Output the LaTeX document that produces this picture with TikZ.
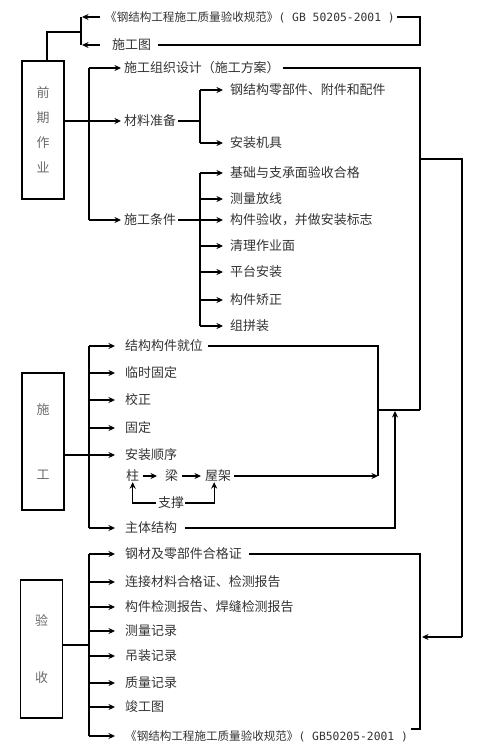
\documentclass[tikz,border=0pt]{standalone}
\usepackage{fontspec}
\newfontfamily\cjk{Noto Sans CJK SC}
\newfontfamily\latmono{DejaVu Sans Mono}
\usetikzlibrary{arrows.meta,calc}
\definecolor{txt}{HTML}{333333}
\definecolor{lbl}{HTML}{6A6A6A}
\begin{document}
\begin{tikzpicture}[x=1bp,y=-1bp,
  line/.style={line width=1.3bp,draw=black},
  arr/.style={line,-{Stealth[length=6.5bp,width=6bp]}},
  item/.style={anchor=west,inner sep=0pt,font=\cjk\fontsize{13}{15}\selectfont,text=txt},
  longref/.style={item,font=\cjk\fontsize{11.6}{15}\selectfont},
  stage/.style={draw=black,line width=1.3bp,minimum width=42bp,inner sep=0pt,align=center,font=\cjk\fontsize{13}{25}\selectfont,text=lbl}]
\useasboundingbox (0,0) rectangle (498,749);

% ---- top references
\node[longref] (g1) at (105,17) {《钢结构工程施工质量验收规范》{\latmono\fontsize{11.4}{15}\selectfont( GB 50205-2001 )}};
\node[item] (g2) at (112,45) {施工图};
\coordinate (tg) at (81,17);
\coordinate (tm) at (81,32);
\coordinate (rg) at (420,17);
\node[stage,minimum height=138bp] (q) at (43,130) {前\\期\\作\\业};
\draw[line] (tg) -- (tg |- g2.west);
\draw[arr] ($(g1.west)+(-5,0)$) -- ($(tg)+(1,0)$);
\draw[arr] ($(g2.west)+(-12,0)$) -- ($(tg |- g2.west)+(1,0)$);
\draw[line] ($(q.north)+(4,0)$) |- (tm);
\draw[line] ($(g1.east)+(2,0)$) -| (rg |- g2.east) -- ($(g2.east)+(7,0)$);

% ---- preliminary work
\node[item] (a1) at (124,68) {施工组织设计（施工方案）};
\node[item] (a2) at (124,121) {材料准备};
\node[item] (a3) at (124,220) {施工条件};
\coordinate (ta) at (89,68);
\draw[line] (ta) -- (ta |- a3.west);
\draw[arr] (ta) -- ($(a1.west)+(-3,0)$);
\draw[arr] (ta |- a3.west) -- ($(a3.west)+(-3,0)$);
\draw[arr] (q.east |- a2.west) -- ($(a2.west)+(-3,0)$);

\node[item] (b1) at (230,90) {钢结构零部件、附件和配件};
\node[item] (b2) at (230,143) {安装机具};
\coordinate (tb) at (200,90);
\draw[line] ($(a2.east)+(2,0)$) -- (tb |- a2.east);
\draw[line] (tb) -- (tb |- b2.west);
\draw[arr] (tb) -- ($(b1.west)+(-7,0)$);
\draw[arr] (tb |- b2.west) -- ($(b2.west)+(-7,0)$);

\node[item] (c1) at (230,173) {基础与支承面验收合格};
\node[item] (c2) at (230,199) {测量放线};
\node[item] (c3) at (230,220) {构件验收，并做安装标志};
\node[item] (c4) at (230,246) {清理作业面};
\node[item] (c5) at (230,272) {平台安装};
\node[item] (c6) at (230,300) {构件矫正};
\node[item] (c7) at (230,326) {组拼装};
\coordinate (tc) at (200,173);
\draw[line] (tc) -- (tc |- c7.west);
\foreach \i in {1,...,7} \draw[arr] (tc |- c\i.west) -- ($(c\i.west)+(-7,0)$);
\draw[line] ($(a3.east)+(2,0)$) -- (tc |- a3.east);

% right-hand collectors
\coordinate (rj) at (420,410);
\coordinate (r2) at (462,159);
\coordinate (r3) at (462,637);
\draw[line] ($(a1.east)+(3,0)$) -| (rj);
\draw[line] (rj |- r2) -- (r2) -- (r3);

% ---- construction
\node[stage,minimum height=137bp] (s) at (43,441.5) {施\\[40bp]工};
\node[item] (d1) at (125,346) {结构构件就位};
\node[item] (d2) at (125,373) {临时固定};
\node[item] (d3) at (125,400) {校正};
\node[item] (d4) at (125,428) {固定};
\node[item] (d5) at (125,455) {安装顺序};
\node[item] (d6) at (125,528) {主体结构};
\coordinate (td) at (89,346);
\draw[line] (td) -- (td |- d6.west);
\foreach \i in {1,2,3,4,6} \draw[arr] (td |- d\i.west) -- ($(d\i.west)+(-10,0)$);
\draw[arr] (s.east |- d5.west) -- ($(d5.west)+(-10,0)$);

\node[item] (e1) at (126,476) {柱};
\node[item] (e2) at (165,476) {梁};
\node[item] (e3) at (205,476) {屋架};
\node[item] (e4) at (158,503) {支撑};
\draw[arr] ($(e1.east)+(4,0)$) -- ($(e2.west)+(-8,0)$);
\draw[arr] ($(e2.east)+(4,0)$) -- ($(e3.west)+(-4,0)$);
\draw[arr] ($(e4.west)+(-2,0)$) -| (e1.south);
\draw[arr] ($(e4.east)+(1,0)$) -| ($(e3.south)+(-4,0)$);

\coordinate (sx) at (378,346);
\draw[line] ($(d1.east)+(5,0)$) -| (sx |- e3.east);
\draw[arr] ($(e3.east)+(3,0)$) -- (sx |- e3.east);
\draw[line] (sx |- rj) -- (rj);
\draw[arr] ($(d6.east)+(8,0)$) -| ($(rj)+(-25,1)$);

% ---- acceptance
\node[stage,minimum height=138bp] (v) at (41.5,649) {验\\[33bp]收};
\node[item] (f1) at (125,554) {钢材及零部件合格证};
\node[item] (f2) at (125,582) {连接材料合格证、检测报告};
\node[item] (f3) at (125,607) {构件检测报告、焊缝检测报告};
\node[item] (f4) at (125,631) {测量记录};
\node[item] (f5) at (125,656) {吊装记录};
\node[item] (f6) at (125,683) {质量记录};
\node[item] (f7) at (125,707) {竣工图};
\node[longref] (f8) at (125,736) {《钢结构工程施工质量验收规范》{\latmono\fontsize{11.4}{15}\selectfont( GB50205-2001 )}};
\coordinate (tf) at (89,554);
\draw[line] (tf) -- (tf |- f8.west);
\foreach \i in {1,...,8} \draw[arr] (tf |- f\i.west) -- ($(f\i.west)+(-10,0)$);
\coordinate (vo) at ($(v.east)+(0,-4)$);
\draw[line] (vo) -- (tf |- vo);
\coordinate (fr) at (420,554);
\coordinate (fb) at (420,729);
\draw[line] ($(f1.east)+(7,0)$) -| (fb) -- ($(f8.east)+(3,-7)$);
\draw[arr] (r3) -- ($(fr |- r3)+(2,0)$);
\end{tikzpicture}
\end{document}
